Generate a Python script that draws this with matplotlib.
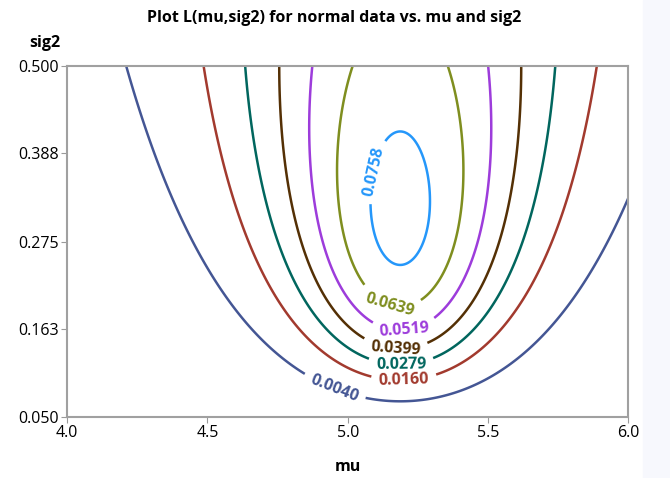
import numpy as np
import matplotlib.pyplot as plt
from matplotlib.patches import Rectangle

plt.rcParams['font.family'] = ['Open Sans', 'DejaVu Sans']

# summary of the normal sample
n_obs = 3
xbar = 5.187
ss = 0.947          # sum of squared deviations about the mean

levels = [0.0040, 0.0160, 0.0279, 0.0399, 0.0519, 0.0639, 0.0758]
colors = ['#445694', '#A23A2E', '#01665E', '#543005', '#9D3CDB', '#7F8E1F', '#2597FA']
label_pos = [(4.95, 0.085), (5.20, 0.098), (5.19, 0.120), (5.17, 0.140),
             (5.20, 0.167), (5.16, 0.205), (5.09, 0.365)]
xticks = [4.0, 4.5, 5.0, 5.5, 6.0]
yticks = [0.050, 0.163, 0.275, 0.388, 0.500]

mu = np.linspace(4.0, 6.0, 401)
sig2 = np.linspace(0.05, 0.5, 401)
M, S2 = np.meshgrid(mu, sig2)
L = (2 * np.pi * S2) ** (-n_obs / 2) * np.exp(-(ss + n_obs * (M - xbar) ** 2) / (2 * S2))

fig = plt.figure(figsize=(6.7, 4.78), dpi=100)
fig.patches.append(Rectangle((0.96, 0), 0.04, 1, transform=fig.transFigure,
                             color='#F7F8FD', zorder=-1))
ax = fig.add_axes([0.1, 0.1276, 0.838, 0.734])

cs = ax.contour(M, S2, L, levels=levels, colors=colors, linewidths=1.8)
ax.clabel(cs, fmt='%.4f', fontsize=11.5, manual=label_pos, inline=True, inline_spacing=8)
for t in cs.labelTexts:
    t.set_fontweight('bold')

ax.set_xlim(4.0, 6.0)
ax.set_ylim(0.05, 0.5)
ax.set_xticks(xticks)
ax.set_xticklabels(['%.1f' % v for v in xticks])
ax.set_yticks(yticks)
ax.set_yticklabels(['%.3f' % v for v in yticks])
ax.tick_params(direction='out', length=4, color='#9A9A9A', labelsize=11.5, pad=2)
for sp in ax.spines.values():
    sp.set_color('#A0A0A0')
    sp.set_linewidth(1.5)

ax.set_xlabel('mu', fontsize=11.5, fontweight='bold', labelpad=13)
fig.text(0.067, 0.91, 'sig2', fontsize=11.5, fontweight='bold', ha='center', va='center')
fig.text(0.498, 0.962, 'Plot L(mu,sig2) for normal data vs. mu and sig2',
         fontsize=11.5, fontweight='bold', ha='center', va='center')

fig.savefig('out.png', dpi=100)
